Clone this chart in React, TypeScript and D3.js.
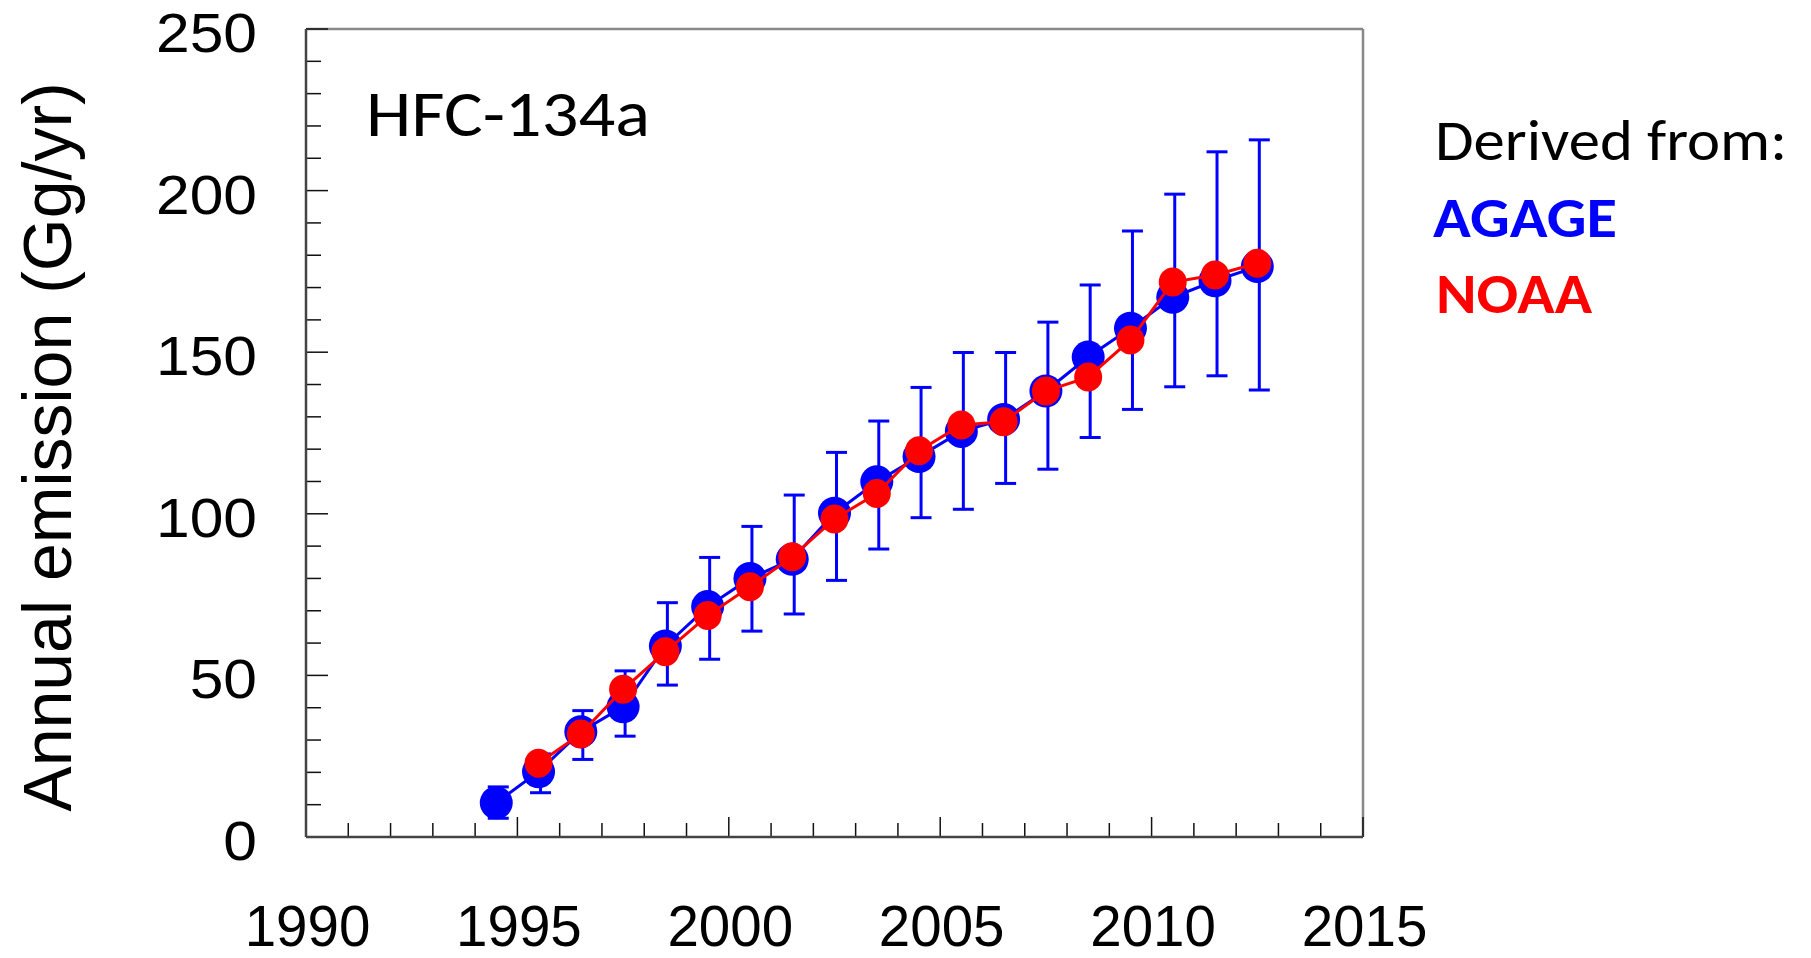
import React from "react";
import * as d3 from "d3";

// HFC-134a annual emissions (Gg/yr) derived from two observation networks
const agageYears = [1994.5, 1995.5, 1996.5, 1997.5, 1998.5, 1999.5, 2000.5, 2001.5, 2002.5, 2003.5, 2004.5, 2005.5, 2006.5, 2007.5, 2008.5, 2009.5, 2010.5, 2011.5, 2012.5];
const agageValues = [10.6, 20.2, 32.6, 40.3, 59.1, 71.3, 80.0, 85.9, 100.2, 109.9, 117.7, 125.5, 129.2, 138.0, 148.5, 157.4, 167.0, 172.1, 176.5];
const agageLow = [5.8, 13.7, 24.0, 31.2, 47.0, 55.0, 63.7, 69.0, 79.4, 89.1, 98.8, 101.4, 109.4, 113.8, 123.6, 132.3, 139.3, 142.7, 138.3];
const agageHigh = [15.5, 25.7, 39.1, 51.4, 72.5, 86.5, 96.1, 105.8, 119.0, 128.7, 139.1, 149.9, 149.9, 159.3, 170.8, 187.5, 198.9, 212.0, 215.7];

const noaaYears = [1995.5, 1996.5, 1997.5, 1998.5, 1999.5, 2000.5, 2001.5, 2002.5, 2003.5, 2004.5, 2005.5, 2006.5, 2007.5, 2008.5, 2009.5, 2010.5, 2011.5, 2012.5];
const noaaValues = [22.8, 31.9, 45.7, 57.3, 68.5, 77.4, 86.7, 98.4, 106.3, 119.5, 127.5, 128.5, 138.0, 142.3, 153.8, 171.7, 173.9, 177.5];

const xTickLabels = ["1990", "1995", "2000", "2005", "2010", "2015"];
const yTickLabels = ["0", "50", "100", "150", "200", "250"];

const W = 1811;
const H = 958;
const left = 306;
const right = 1363;
const top = 29;
const bottom = 837;

const BLUE = "#0000ff";
const RED = "#ff0000";
const SANS = "'Liberation Sans', Arial, Helvetica, sans-serif";
const HUMANIST = "Carlito, 'Open Sans', 'Noto Sans', sans-serif";

export default function App() {
  const x = d3.scaleLinear().domain([1990, 2015]).range([left, right]);
  const y = d3.scaleLinear().domain([0, 250]).range([bottom, top]);

  const agagePts = agageYears.map((yr, i) => [yr, agageValues[i]] as [number, number]);
  const noaaPts = noaaYears.map((yr, i) => [yr, noaaValues[i]] as [number, number]);
  const line = d3
    .line<[number, number]>()
    .x((d) => x(d[0]))
    .y((d) => y(d[1]));

  const xTicks = x.ticks(25);
  const yTicks = y.ticks(25);

  return (
    <svg
      width={W}
      height={H}
      viewBox={`0 0 ${W} ${H}`}
      style={{ position: "absolute", left: 0, top: 0, background: "#fff" }}
    >
      <rect x={0} y={0} width={W} height={H} fill="#fff" />

      {/* frame: light top/right, darker axes */}
      <line x1={left} x2={right} y1={top} y2={top} stroke="#888" strokeWidth={2.5} />
      <line x1={right} x2={right} y1={top} y2={bottom} stroke="#888" strokeWidth={2.5} />

      {/* x ticks */}
      {xTicks.map((t) => (
        <line
          key={"xt" + t}
          x1={x(t)}
          x2={x(t)}
          y1={bottom}
          y2={bottom - (t % 5 === 0 ? 20 : 14)}
          stroke="#111"
          strokeWidth={1.5}
        />
      ))}
      {/* y ticks */}
      {yTicks.map((t) => (
        <line
          key={"yt" + t}
          x1={left}
          x2={left + (t % 50 === 0 ? 22 : 15)}
          y1={y(t)}
          y2={y(t)}
          stroke="#111"
          strokeWidth={1.5}
        />
      ))}

      <line x1={left} x2={right} y1={bottom} y2={bottom} stroke="#444" strokeWidth={2.5} />
      <line x1={left} x2={left} y1={top} y2={bottom} stroke="#444" strokeWidth={2.5} />

      {/* tick labels */}
      {xTickLabels.map((lab) => (
        <text
          key={"xl" + lab}
          x={x(+lab) + 1.5}
          y={946}
          textAnchor="middle"
          fontFamily={SANS}
          fontSize={56.5}
          fill="#000"
        >
          {lab}
        </text>
      ))}
      {yTickLabels.map((lab) => (
        <text
          key={"yl" + lab}
          transform={`translate(257, ${y(+lab) + 23}) scale(1.1, 1)`}
          textAnchor="end"
          fontFamily={SANS}
          fontSize={55}
          fill="#000"
        >
          {lab}
        </text>
      ))}

      {/* axis title */}
      <text
        transform={`translate(71, 447) rotate(-90)`}
        textAnchor="middle"
        fontFamily={SANS}
        fontSize={68}
        fill="#000"
      >
        Annual emission (Gg/yr)
      </text>

      {/* compound name */}
      <text
        x={366}
        y={136}
        fontFamily={HUMANIST}
        fontSize={66}
        textLength={284}
        lengthAdjust="spacingAndGlyphs"
        fill="#000"
      >
        HFC-134a
      </text>

      {/* AGAGE uncertainty bars */}
      <g stroke={BLUE} strokeWidth={3}>
        {agageYears.map((yr, i) => (
          <g key={"eb" + yr}>
            <line x1={x(yr) + 2} x2={x(yr) + 2} y1={y(agageLow[i])} y2={y(agageHigh[i])} />
            <line x1={x(yr) + 2 - 10.5} x2={x(yr) + 2 + 10.5} y1={y(agageLow[i])} y2={y(agageLow[i])} />
            <line x1={x(yr) + 2 - 10.5} x2={x(yr) + 2 + 10.5} y1={y(agageHigh[i])} y2={y(agageHigh[i])} />
          </g>
        ))}
      </g>

      {/* AGAGE series */}
      <path d={line(agagePts) || ""} fill="none" stroke={BLUE} strokeWidth={3} />
      {agagePts.map((d) => (
        <ellipse key={"a" + d[0]} cx={x(d[0])} cy={y(d[1])} rx={16.5} ry={16.5} fill={BLUE} />
      ))}

      {/* NOAA series */}
      <path d={line(noaaPts) || ""} fill="none" stroke={RED} strokeWidth={3} />
      {noaaPts.map((d) => (
        <ellipse key={"n" + d[0]} cx={x(d[0])} cy={y(d[1])} rx={14} ry={14.5} fill={RED} />
      ))}

      {/* legend */}
      <text x={1435} y={160} fontFamily={HUMANIST} fontSize={58} textLength={352} lengthAdjust="spacingAndGlyphs" fill="#000">
        Derived from:
      </text>
      <text x={1433} y={237} fontFamily={HUMANIST} fontWeight="bold" fontSize={56} textLength={184} lengthAdjust="spacingAndGlyphs" fill={BLUE}>
        AGAGE
      </text>
      <text x={1436} y={313} fontFamily={HUMANIST} fontWeight="bold" fontSize={56} textLength={156} lengthAdjust="spacingAndGlyphs" fill={RED}>
        NOAA
      </text>
    </svg>
  );
}
